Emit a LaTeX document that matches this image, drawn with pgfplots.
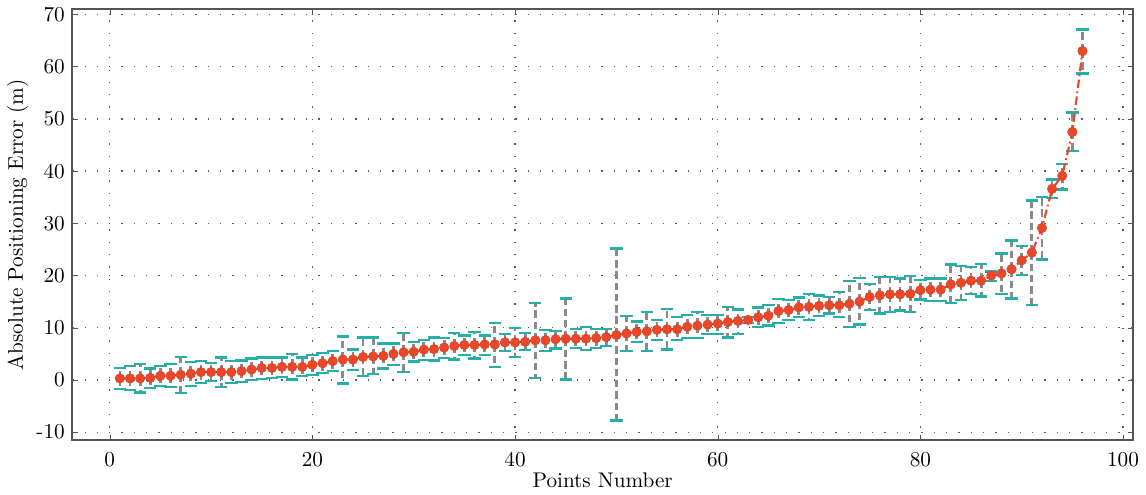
\documentclass[border=0pt]{standalone}
\usepackage{pgfplots}
\pgfplotsset{compat=1.18}
\usepackage{pgfplotstable}
\definecolor{ptred}{HTML}{EA4628}
\definecolor{capteal}{HTML}{26AFA7}
\definecolor{bargrey}{HTML}{8A8A8A}
\definecolor{framegrey}{HTML}{555555}

% x, mean, upper end, lower end of the bar
\pgfplotstableread{
x y hi lo
1 0.3 2.35 -1.7
2 0.3 2.7 -1.9
3 0.3 3.1 -2.4
4 0.4 2.2 -1.5
5 0.8 2.7 -1.1
6 0.8 3.0 -1.4
7 1.0 4.4 -2.5
8 1.2 3.4 -1.1
9 1.5 3.6 -0.6
10 1.5 3.2 -0.2
11 1.5 4.3 -1.3
12 1.5 3.6 -0.6
13 1.7 3.7 -0.4
14 2.0 4.1 0.0
15 2.3 4.3 0.2
16 2.3 4.3 0.4
17 2.5 4.3 0.6
18 2.5 5.0 0.1
19 2.5 4.3 0.8
20 2.9 4.8 1.0
21 3.2 5.1 1.3
22 3.6 5.5 1.7
23 3.9 8.3 -0.7
24 3.9 5.8 1.9
25 4.4 8.1 0.8
26 4.5 8.1 1.1
27 4.6 7.0 2.2
28 5.0 7.0 2.9
29 5.3 9.0 1.5
30 5.4 7.3 3.5
31 5.8 7.7 3.8
32 5.9 8.1 3.7
33 6.2 8.0 4.2
34 6.5 9.0 3.9
35 6.7 8.5 4.8
36 6.7 9.2 4.1
37 6.8 8.5 4.8
38 6.8 10.9 2.5
39 7.2 8.8 5.5
40 7.2 9.9 4.4
41 7.3 9.0 5.7
42 7.6 14.8 0.4
43 7.6 9.6 5.6
44 7.8 9.4 6.0
45 7.9 15.6 0.1
46 7.9 9.8 6.1
47 7.9 10.1 5.7
48 8.0 9.8 6.1
49 8.2 9.8 6.5
50 8.6 25.2 -7.8
51 8.9 12.3 5.5
52 9.2 11.2 7.3
53 9.3 13.0 5.6
54 9.6 11.5 7.7
55 9.7 13.6 5.8
56 9.7 12.0 7.6
57 10.2 12.5 8.0
58 10.4 13.0 8.0
59 10.6 12.4 8.8
60 10.8 12.5 8.8
61 11.1 14.0 8.1
62 11.3 13.5 8.8
63 11.5 12.1 10.9
64 12.0 13.9 10.1
65 12.3 14.4 10.4
66 13.2 15.5 10.9
67 13.4 15.3 11.5
68 13.9 15.8 12.0
69 14.0 16.5 11.5
70 14.2 16.2 12.3
71 14.3 15.9 12.7
72 14.3 16.8 12.1
73 14.6 18.9 10.1
74 15.0 19.5 10.6
75 15.9 18.4 13.4
76 16.2 19.7 12.7
77 16.4 19.7 13.0
78 16.4 19.4 13.3
79 16.5 19.9 13.0
80 17.2 19.1 15.4
81 17.3 19.4 15.1
82 17.3 19.4 15.1
83 18.3 22.1 14.7
84 18.6 21.8 15.3
85 19.0 21.6 16.4
86 19.0 22.2 16.0
87 20.0 20.8 19.0
88 20.4 24.2 16.5
89 21.2 26.7 15.6
90 22.9 25.6 20.1
91 24.4 34.4 14.4
92 29.1 35.1 23.1
93 36.6 38.4 34.8
94 39.1 41.4 36.5
95 47.5 51.2 43.9
96 63.0 67.1 58.7
}\errdata

\begin{document}
\begin{tikzpicture}
\begin{axis}[
  scale only axis,
  width=500pt, height=203pt,
  xmin=-3.7, xmax=101, ymin=-11.5, ymax=71,
  xtick={0,20,...,100},
  ytick={-10,0,...,70},
  yticklabels={-10,0,10,20,30,40,50,60,70},
  tick align=inside,
  major tick length=2.5pt,
  tick style={framegrey},
  axis line style={framegrey, line width=0.9pt},
  grid=major,
  grid style={black!65, line width=0.6pt, dash pattern=on 0.6pt off 5.2pt},
  xlabel={Points Number},
  ylabel={Absolute Positioning Error (m)},
  xticklabel style={yshift=-2.5pt},
  xlabel style={yshift=4pt},
  ylabel style={yshift=-3pt},
  font=\normalsize,
  tick label style={font=\normalsize},
]
% error bars first so the means sit on top
\addplot[only marks, mark=none,
  error bars/.cd, y dir=both, y explicit,
  error bar style={bargrey, line width=1.3pt, dash pattern=on 3.5pt off 1.8pt},
  error mark options={capteal, line width=1.1pt, mark size=2.9pt, rotate=90},
] table[x=x, y=y,
  y error plus expr=\thisrow{hi}-\thisrow{y},
  y error minus expr=\thisrow{y}-\thisrow{lo}] {\errdata};
\addplot[ptred, line width=1pt, dash pattern=on 4pt off 1.6pt on 0.8pt off 1.6pt,
  mark=*, mark size=1.8pt, mark options={solid, fill=ptred, draw=none}]
  table[x=x, y=y] {\errdata};
\end{axis}
\end{tikzpicture}
\end{document}
